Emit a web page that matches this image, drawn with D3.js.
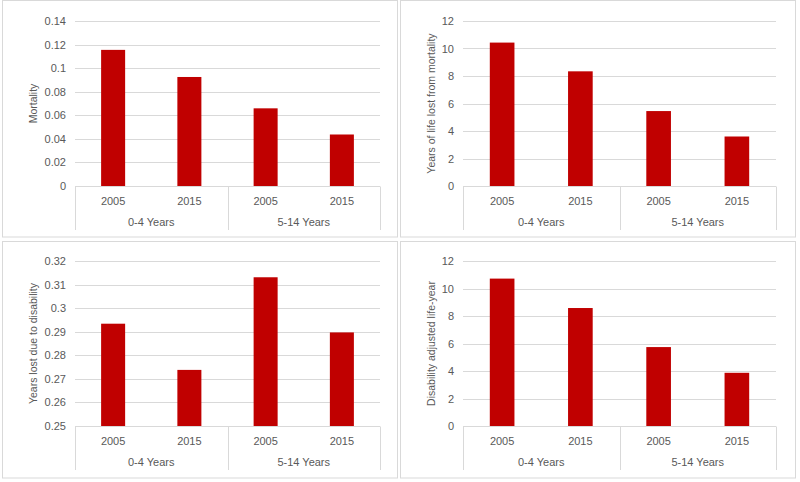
<!DOCTYPE html>
<html><head><meta charset="utf-8">
<script src="https://cdn.jsdelivr.net/npm/d3@7"></script>
<style>body{margin:0;background:#fff}svg{display:block;font-family:"Liberation Sans",Arial,sans-serif}</style>
</head><body><svg id="c" width="800" height="482"></svg>
<script>
const years = ["2005", "2015", "2005", "2015"];
const groups = ["0-4 Years", "5-14 Years"];
const mortality = [0.1155, 0.0925, 0.0659, 0.0437];
const yllMortality = [10.43, 8.34, 5.45, 3.6];
const yldDisability = [0.2934, 0.2738, 0.3131, 0.2897];
const daly = [10.72, 8.58, 5.74, 3.87];
const mortalityTicks = [0, 0.02, 0.04, 0.06, 0.08, 0.1, 0.12, 0.14];
const yearsTicks = [0, 2, 4, 6, 8, 10, 12];
const disabilityTicks = [0.25, 0.26, 0.27, 0.28, 0.29, 0.3, 0.31, 0.32];
const titles = ["Mortality", "Years of life lost from mortality", "Years lost due to disability", "Disability adjusted life-year"];

const panels = [
  {values: mortality, ticks: mortalityTicks, title: titles[0], bx: 2, by: 0, x0: 75, x1: 380, y0: 21, y1: 186},
  {values: yllMortality, ticks: yearsTicks, title: titles[1], bx: 400, by: 0, x0: 463, x1: 776, y0: 21, y1: 186},
  {values: yldDisability, ticks: disabilityTicks, title: titles[2], bx: 2, by: 241, x0: 75, x1: 380, y0: 261, y1: 426},
  {values: daly, ticks: yearsTicks, title: titles[3], bx: 400, by: 241, x0: 463, x1: 776, y0: 261, y1: 426}
];

const svg = d3.select("#c");
const gridCol = "#d9d9d9", textCol = "#595959", barCol = "#c00000";

panels.forEach((p, pi) => {
  const g = svg.append("g");
  g.append("rect").attr("x", p.bx + 0.5).attr("y", p.by + 0.5)
    .attr("width", 395).attr("height", 236.5).attr("fill", "#fff").attr("stroke", gridCol);

  const idx = d3.range(p.values.length);
  const x = d3.scaleBand().domain(idx).range([p.x0, p.x1]).paddingInner(0.685).paddingOuter(0.3425);
  const y = d3.scaleLinear().domain(d3.extent(p.ticks)).range([p.y1, p.y0]);

  g.append("g").selectAll("line").data(p.ticks).join("line")
    .attr("x1", p.x0).attr("x2", p.x1)
    .attr("y1", d => Math.round(y(d)) + 0.5).attr("y2", d => Math.round(y(d)) + 0.5)
    .attr("stroke", gridCol).attr("stroke-width", 1);

  const yAxis = d3.axisLeft(y).tickValues(p.ticks).tickSize(0).tickPadding(0)
    .tickFormat(d => String(+d.toFixed(4)));
  const ya = g.append("g").attr("transform", `translate(${p.x0 - 9},0)`).call(yAxis);
  ya.select(".domain").remove();
  ya.selectAll("text").attr("fill", textCol).style("font-size", "11px").style("font-family", "Liberation Sans, Arial, sans-serif");

  const base = y.domain()[0];
  g.append("g").selectAll("rect").data(p.values).join("rect")
    .attr("x", (d, i) => x(i)).attr("width", x.bandwidth())
    .attr("y", d => y(d)).attr("height", d => y(base) - y(d))
    .attr("fill", barCol);

  const by = Math.round(p.y1) + 0.5;
  const bottom = p.y1 + 44;
  g.append("line").attr("x1", p.x0).attr("x2", p.x1).attr("y1", by).attr("y2", by).attr("stroke", gridCol);
  const gx = d3.scaleBand().domain(groups).range([p.x0, p.x1]);
  const divs = [p.x0, gx(groups[1]), p.x1];
  g.append("g").selectAll("line").data(divs).join("line")
    .attr("x1", d => Math.round(d) + 0.5).attr("x2", d => Math.round(d) + 0.5)
    .attr("y1", by).attr("y2", bottom).attr("stroke", gridCol);
  g.append("g").selectAll("text").data(years).join("text")
    .attr("x", (d, i) => x(i) + x.bandwidth() / 2).attr("y", p.y1 + 19)
    .attr("text-anchor", "middle").attr("fill", textCol).style("font-size", "11px").text(d => d);
  g.append("g").selectAll("text").data(groups).join("text")
    .attr("x", d => gx(d) + gx.bandwidth() / 2).attr("y", p.y1 + 40)
    .attr("text-anchor", "middle").attr("fill", textCol).style("font-size", "11px").text(d => d);

  const tx = p.bx + 35;
  g.append("text").attr("transform", `translate(${tx},${(p.y0 + p.y1) / 2}) rotate(-90)`)
    .attr("text-anchor", "middle").attr("fill", textCol).style("font-size", "10.5px").text(p.title);
});
</script></body></html>
